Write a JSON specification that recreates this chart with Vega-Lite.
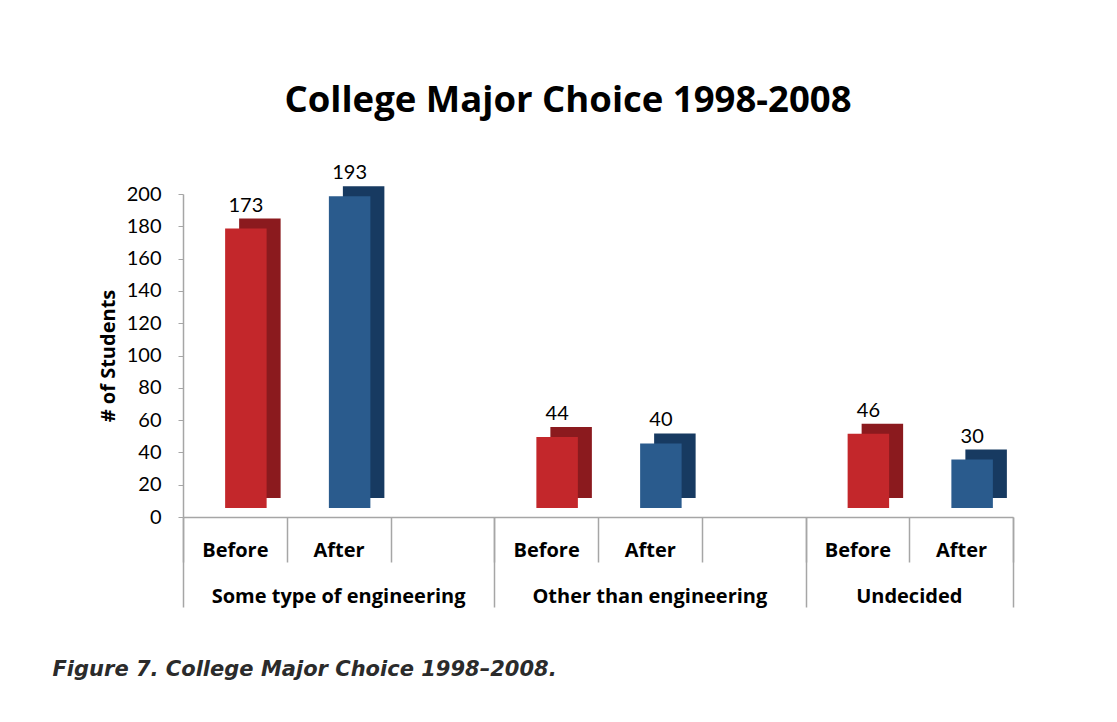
{
  "$schema": "https://vega.github.io/schema/vega-lite/v6.json",
  "width": 830,
  "height": 323,
  "autosize": {"type": "none"},
  "padding": {"left": 183, "top": 194, "right": 104, "bottom": 205},
  "background": "white",
  "config": {"view": {"stroke": null}, "font": "Lato", "axisY": {"labelOverlap": false}},
  "title": {
    "text": "College Major Choice 1998-2008",
    "font": "Open Sans",
    "fontSize": 36.5,
    "fontWeight": "bold",
    "color": "#000000",
    "anchor": "middle",
    "dx": -30,
    "offset": 15,
    "baseline": "alphabetic"
  },
  "data": {
    "values": [
      {"group": "Some type of engineering", "period": "Before", "category": "Some type of engineering|Before", "students": 173},
      {"group": "Some type of engineering", "period": "After", "category": "Some type of engineering|After", "students": 193},
      {"group": "Other than engineering", "period": "Before", "category": "Other than engineering|Before", "students": 44},
      {"group": "Other than engineering", "period": "After", "category": "Other than engineering|After", "students": 40},
      {"group": "Undecided", "period": "Before", "category": "Undecided|Before", "students": 46},
      {"group": "Undecided", "period": "After", "category": "Undecided|After", "students": 30}
    ]
  },
  "resolve": {"axis": {"x": "independent"}},
  "layer": [
    {
      "encoding": {
        "x": {
          "field": "category",
          "type": "nominal",
          "scale": {
            "domain": [
              "Some type of engineering|Before", "Some type of engineering|After", "Some type of engineering|",
              "Other than engineering|Before", "Other than engineering|After", "Other than engineering|",
              "Undecided|Before", "Undecided|After"
            ],
            "paddingInner": 0,
            "paddingOuter": 0
          },
          "axis": {
            "orient": "bottom",
            "title": "Figure 7. College Major Choice 1998–2008.",
            "titleFont": "DejaVu Sans",
            "titleFontSize": 21,
            "titleFontWeight": "bold",
            "titleFontStyle": "italic",
            "titleColor": "#2b2b2b",
            "titleX": -131,
            "titleY": 158,
            "titleAlign": "left",
            "titleAnchor": "start",
            "titleBaseline": "alphabetic",
            "labelExpr": "split(datum.value, '|')[1]",
            "labelAngle": 0,
            "labelFont": "Open Sans",
            "labelFontSize": 20,
            "labelFontWeight": "bold",
            "labelColor": "#000000",
            "labelPadding": -22,
            "labelBaseline": "top",
            "tickBand": "extent",
            "tickSize": 45,
            "tickColor": "#A6A6A6",
            "tickWidth": 1.5,
            "domainColor": "#A6A6A6",
            "domainWidth": 1.5
          }
        },
        "y": {
          "field": "students",
          "type": "quantitative",
          "scale": {"domain": [0, 200], "nice": false},
          "axis": {
            "title": "# of Students",
            "titleFont": "Open Sans",
            "titleFontSize": 20,
            "titleFontWeight": "bold",
            "titleColor": "#000000",
            "titlePadding": 8,
            "values": [0, 20, 40, 60, 80, 100, 120, 140, 160, 180, 200],
            "labelOverlap": false,
            "labelFont": "Lato",
            "labelFontSize": 20,
            "labelColor": "#000000",
            "labelPadding": 17,
            "tickSize": 5,
            "tickColor": "#A6A6A6",
            "domainColor": "#A6A6A6",
            "domainWidth": 1.5,
            "grid": false
          }
        }
      },
      "layer": [
        {
          "mark": {"type": "bar", "width": {"band": 0.4}, "xOffset": 25, "yOffset": -19},
          "encoding": {
            "color": {"condition": {"test": "datum.period === 'Before'", "value": "#8B1A1E"}, "value": "#173A61"}
          }
        },
        {
          "mark": {"type": "bar", "width": {"band": 0.4}, "xOffset": 11, "yOffset": -9},
          "encoding": {
            "color": {"condition": {"test": "datum.period === 'Before'", "value": "#C3272B"}, "value": "#2A5B8D"}
          }
        },
        {
          "mark": {"type": "text", "dx": 11, "dy": -26, "baseline": "alphabetic", "font": "Lato", "fontSize": 20, "color": "#000000"},
          "encoding": {
            "text": {"field": "students", "type": "quantitative"}
          }
        }
      ]
    },
    {
      "encoding": {
        "y": {
          "datum": 0,
          "type": "quantitative",
          "axis": {
            "title": "# of Students",
            "titleFont": "Open Sans",
            "titleFontSize": 20,
            "titleFontWeight": "bold",
            "titleColor": "#000000",
            "titlePadding": 8,
            "values": [0, 20, 40, 60, 80, 100, 120, 140, 160, 180, 200],
            "labelOverlap": false,
            "labelFont": "Lato",
            "labelFontSize": 20,
            "labelColor": "#000000",
            "labelPadding": 17,
            "tickSize": 5,
            "tickColor": "#A6A6A6",
            "domainColor": "#A6A6A6",
            "domainWidth": 1.5,
            "grid": false
          }
        },
        "text": {"field": "group", "type": "nominal"}
      },
      "layer": [
        {
          "transform": [{"filter": "datum.period === 'After' && datum.group !== 'Undecided'"}],
          "mark": {"type": "text", "dy": 86, "baseline": "alphabetic", "font": "Open Sans", "fontSize": 20, "fontWeight": "bold", "color": "#000000"},
          "encoding": {
            "x": {
              "field": "category",
              "type": "nominal",
              "axis": {
                "orient": "bottom",
                "title": null,
                "labels": false,
                "domain": false,
                "values": ["Some type of engineering|Before", "Some type of engineering|", "Other than engineering|", "Undecided|After"],
                "tickBand": "extent",
                "tickSize": 90,
                "tickColor": "#A6A6A6",
                "tickWidth": 1.5,
                "tickOpacity": {"condition": {"test": "datum.value === 'Some type of engineering|Before'", "value": 0}, "value": 1}
              }
            }
          }
        },
        {
          "transform": [{"filter": "datum.period === 'Before' && datum.group === 'Undecided'"}],
          "mark": {"type": "text", "dy": 86, "baseline": "alphabetic", "font": "Open Sans", "fontSize": 20, "fontWeight": "bold", "color": "#000000"},
          "encoding": {
            "x": {
              "field": "category",
              "type": "nominal",
              "bandPosition": 1,
              "axis": {
                "orient": "bottom",
                "title": null,
                "labels": false,
                "domain": false,
                "values": ["Some type of engineering|Before", "Some type of engineering|", "Other than engineering|", "Undecided|After"],
                "tickBand": "extent",
                "tickSize": 90,
                "tickColor": "#A6A6A6",
                "tickWidth": 1.5,
                "tickOpacity": {"condition": {"test": "datum.value === 'Some type of engineering|Before'", "value": 0}, "value": 1}
              }
            }
          }
        }
      ]
    }
  ]
}
